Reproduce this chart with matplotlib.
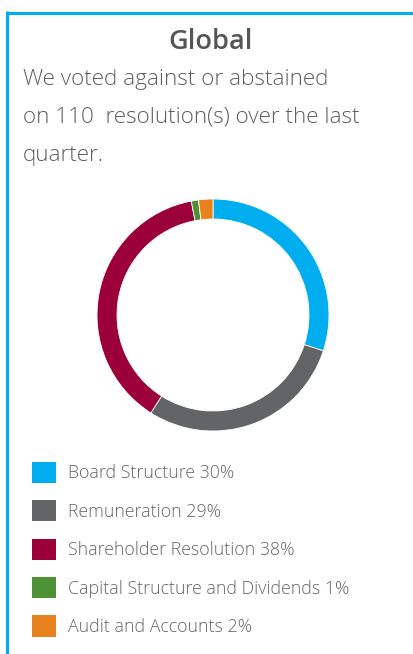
import matplotlib
matplotlib.use("Agg")
import matplotlib.pyplot as plt
from matplotlib.lines import Line2D

categories = ["Board Structure", "Remuneration", "Shareholder Resolution",
              "Capital Structure and Dividends", "Audit and Accounts"]
values = [30, 29, 38, 1, 2]
colors = ["#00AEEF", "#636466", "#9B0039", "#4E9135", "#E8821E"]
title = "Global"
subtitle_lines = ["We voted against or abstained",
                  "on 110  resolution(s) over the last",
                  "quarter."]

W, H = 414, 654
fig = plt.figure(figsize=(W / 100, H / 100), dpi=100)
fig.patch.set_facecolor("white")

# background axes in pixel coordinates
bg = fig.add_axes([0, 0, 1, 1])
bg.set_xlim(0, W)
bg.set_ylim(H, 0)
bg.axis("off")
frame_col = "#00AEEF"
bg.add_line(Line2D([6, W], [12.5, 12.5], color=frame_col, lw=2.2, solid_capstyle="butt"))
bg.add_line(Line2D([7.5, 7.5], [11, H], color=frame_col, lw=2.2, solid_capstyle="butt"))

fam = ["Open Sans", "DejaVu Sans"]
bg.text(211, 42, title, ha="center", va="center", fontsize=19.5, fontweight="semibold",
        color="#555555", family=fam)
for i, line in enumerate(subtitle_lines):
    bg.text(23, 79 + i * 38.3, line, ha="left", va="center", fontsize=16.2, fontweight="light",
            color="#5e5e5e", family=fam)

# donut
cx, cy, r = 213, 315, 116
pax = fig.add_axes([(cx - r) / W, (H - cy - r) / H, 2 * r / W, 2 * r / H])
wedges, _ = pax.pie(values, colors=colors, startangle=90, counterclock=False, radius=1,
                    wedgeprops=dict(width=20 / r, edgecolor="white", linewidth=0.6))
pax.set_xlim(-1, 1)
pax.set_ylim(-1, 1)
pax.set_aspect("equal")
pax.axis("off")

labels = [f"{c} {v}%" for c, v in zip(categories, values)]
leg = fig.legend(wedges, labels, loc="upper left", bbox_to_anchor=(32 / W, 1 - 462 / H),
                 frameon=False, handlelength=1.35, handleheight=1.45,
                 handletextpad=0.65, labelspacing=0.97, borderpad=0, borderaxespad=0,
                 prop=dict(family=fam, weight="light", size=12.8))
for t in leg.get_texts():
    t.set_color("#666666")
for h in leg.legend_handles:
    h.set_edgecolor("none")

fig.savefig("out.png", dpi=100, facecolor="white")
